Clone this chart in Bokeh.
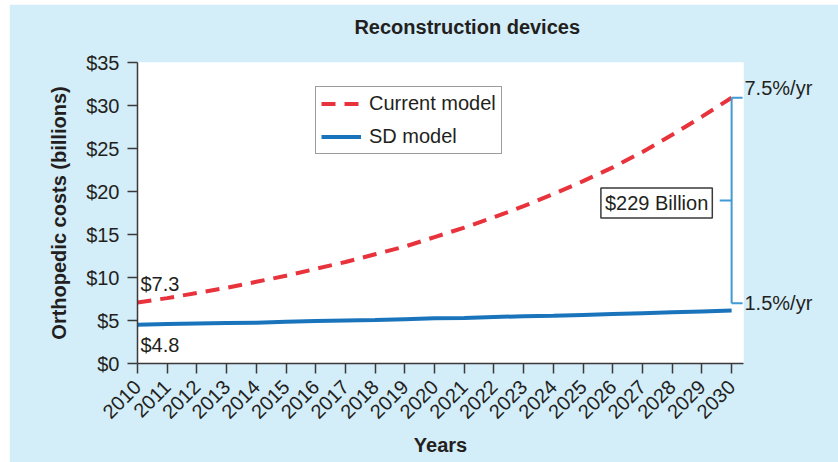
from bokeh.plotting import figure
from bokeh.models import (Range1d, FixedTicker, NumeralTickFormatter, Label,
                          Legend, LegendItem, ColumnDataSource, LinearAxis)
from bokeh.embed import file_html
from bokeh.resources import INLINE
import math

years = list(range(2010, 2031))
current_model = [7.1, 7.6, 8.2, 8.8, 9.5, 10.2, 11.0, 11.8, 12.7, 13.6, 14.7,
                 15.8, 17.0, 18.3, 19.7, 21.2, 22.8, 24.6, 26.6, 28.7, 30.9]
sd_model = [4.5, 4.6, 4.65, 4.7, 4.75, 4.85, 4.95, 5.0, 5.05, 5.15, 5.25,
            5.3, 5.4, 5.5, 5.55, 5.65, 5.75, 5.85, 5.95, 6.05, 6.15]
y_ticks = [0, 5, 10, 15, 20, 25, 30, 35]
title_text = "Reconstruction devices"
start_label = "$7.3"
sd_start_label = "$4.8"
current_rate = "7.5%/yr"
sd_rate = "1.5%/yr"
gap_label = "$229 Billion"

FONT = "Liberation Sans"
BG = "#d3edf9"
AX = "#3a3a3a"
TXT = "#231f20"

p = figure(width=829, height=458, output_backend="svg", toolbar_location=None,
           x_range=Range1d(2010, 2030.4), y_range=Range1d(0, 35),
           min_border_left=128, min_border_right=95, min_border_top=58,
           min_border_bottom=99)
p.margin = (4, 0, 0, 9)
p.border_fill_color = BG
p.background_fill_color = "white"
p.outline_line_color = None
p.xgrid.visible = False
p.ygrid.visible = False

src = ColumnDataSource(dict(x=years, cur=current_model, sd=sd_model))
r_cur = p.line("x", "cur", source=src, line_color="#e8323c", line_width=4,
               line_dash="14 9")
r_sd = p.line("x", "sd", source=src, line_color="#1a74bb", line_width=4)

# axes
p.xaxis.ticker = FixedTicker(ticks=years)
p.yaxis.ticker = FixedTicker(ticks=y_ticks)
p.yaxis.formatter = NumeralTickFormatter(format="$0")
for ax in (p.xaxis[0], p.yaxis[0]):
    ax.axis_line_color = AX
    ax.axis_line_width = 1.5
    ax.major_tick_line_color = AX
    ax.major_tick_line_width = 1.5
    ax.major_tick_out = 10
    ax.major_tick_in = 0
    ax.minor_tick_line_color = None
    ax.major_label_text_font = FONT
    ax.major_label_text_color = TXT
    ax.axis_label_text_font = FONT
    ax.axis_label_text_font_style = "bold"
    ax.axis_label_text_font_size = "20px"
    ax.axis_label_text_color = TXT
p.yaxis.major_label_text_font_size = "20px"
p.xaxis.major_label_text_font_size = "20px"
p.xaxis.major_label_orientation = math.pi / 4
p.xaxis.major_label_standoff = 10
p.xaxis.axis_label = "Years"
p.xaxis.axis_label_standoff = 6
p.yaxis.major_label_standoff = 8
p.yaxis.axis_label = "Orthopedic costs (billions)"
p.yaxis.axis_label_standoff = 13

# bracket geometry (derived from series ends)
top = current_model[-1]
bot = sd_model[-1] + 0.85
mid = (top + bot) / 2
xe = years[-1]

# rate labels on the right, as an unlined axis
rate_axis = LinearAxis(ticker=FixedTicker(ticks=[top + 1.1, bot]),
                       major_label_overrides={top + 1.1: current_rate,
                                              bot: sd_rate},
                       axis_line_color=None, major_tick_line_color=None,
                       major_tick_out=0, major_tick_in=0,
                       minor_tick_line_color=None, major_label_standoff=1,
                       major_label_text_font=FONT,
                       major_label_text_font_size="20px",
                       major_label_text_color=TXT)
p.add_layout(rate_axis, "right")

# title as an unlined axis above (lets it sit off-centre like the original)
title_x = 2021.1
title_axis = LinearAxis(ticker=FixedTicker(ticks=[title_x]),
                        major_label_overrides={title_x: title_text},
                        axis_line_color=None, major_tick_line_color=None,
                        major_tick_out=0, major_tick_in=0,
                        minor_tick_line_color=None, major_label_standoff=25,
                        major_label_text_font=FONT,
                        major_label_text_font_style="bold",
                        major_label_text_font_size="20px",
                        major_label_text_color=TXT)
p.add_layout(title_axis, "above")

# legend
legend = Legend(items=[LegendItem(label="Current model", renderers=[r_cur]),
                       LegendItem(label="SD model", renderers=[r_sd])],
                location=(178, 209), border_line_color=AX, border_line_width=1.5,
                label_text_font=FONT, label_text_font_size="20px",
                label_text_color=TXT, glyph_width=40, glyph_height=23,
                label_height=23, spacing=10, padding=5, margin=0,
                label_standoff=8, background_fill_alpha=1)
p.add_layout(legend, "center")

bc = "#3f9ad6"
p.line([xe, xe], [top, bot], line_color=bc, line_width=2)
p.line([xe, xe + 0.37], [top, top], line_color=bc, line_width=2)
p.line([xe, xe + 0.37], [bot, bot], line_color=bc, line_width=2)
p.line([xe - 0.4, xe], [mid, mid], line_color=bc, line_width=2)

p.add_layout(Label(x=xe - 0.65, y=mid - 0.3, text=gap_label, text_font=FONT,
                   text_font_size="20px", text_align="right",
                   text_baseline="middle", text_color=TXT,
                   border_line_color=AX, border_line_width=1.5,
                   background_fill_color="white", padding=4))
p.add_layout(Label(x=2010.1, y=current_model[0] + 2.2, text=start_label,
                   text_font=FONT, text_font_size="20px", text_align="left",
                   text_baseline="middle", text_color=TXT))
p.add_layout(Label(x=2010.1, y=sd_model[0] - 2.4, text=sd_start_label,
                   text_font=FONT, text_font_size="20px", text_align="left",
                   text_baseline="middle", text_color=TXT))

open("out.html", "w").write(file_html(p, INLINE))
